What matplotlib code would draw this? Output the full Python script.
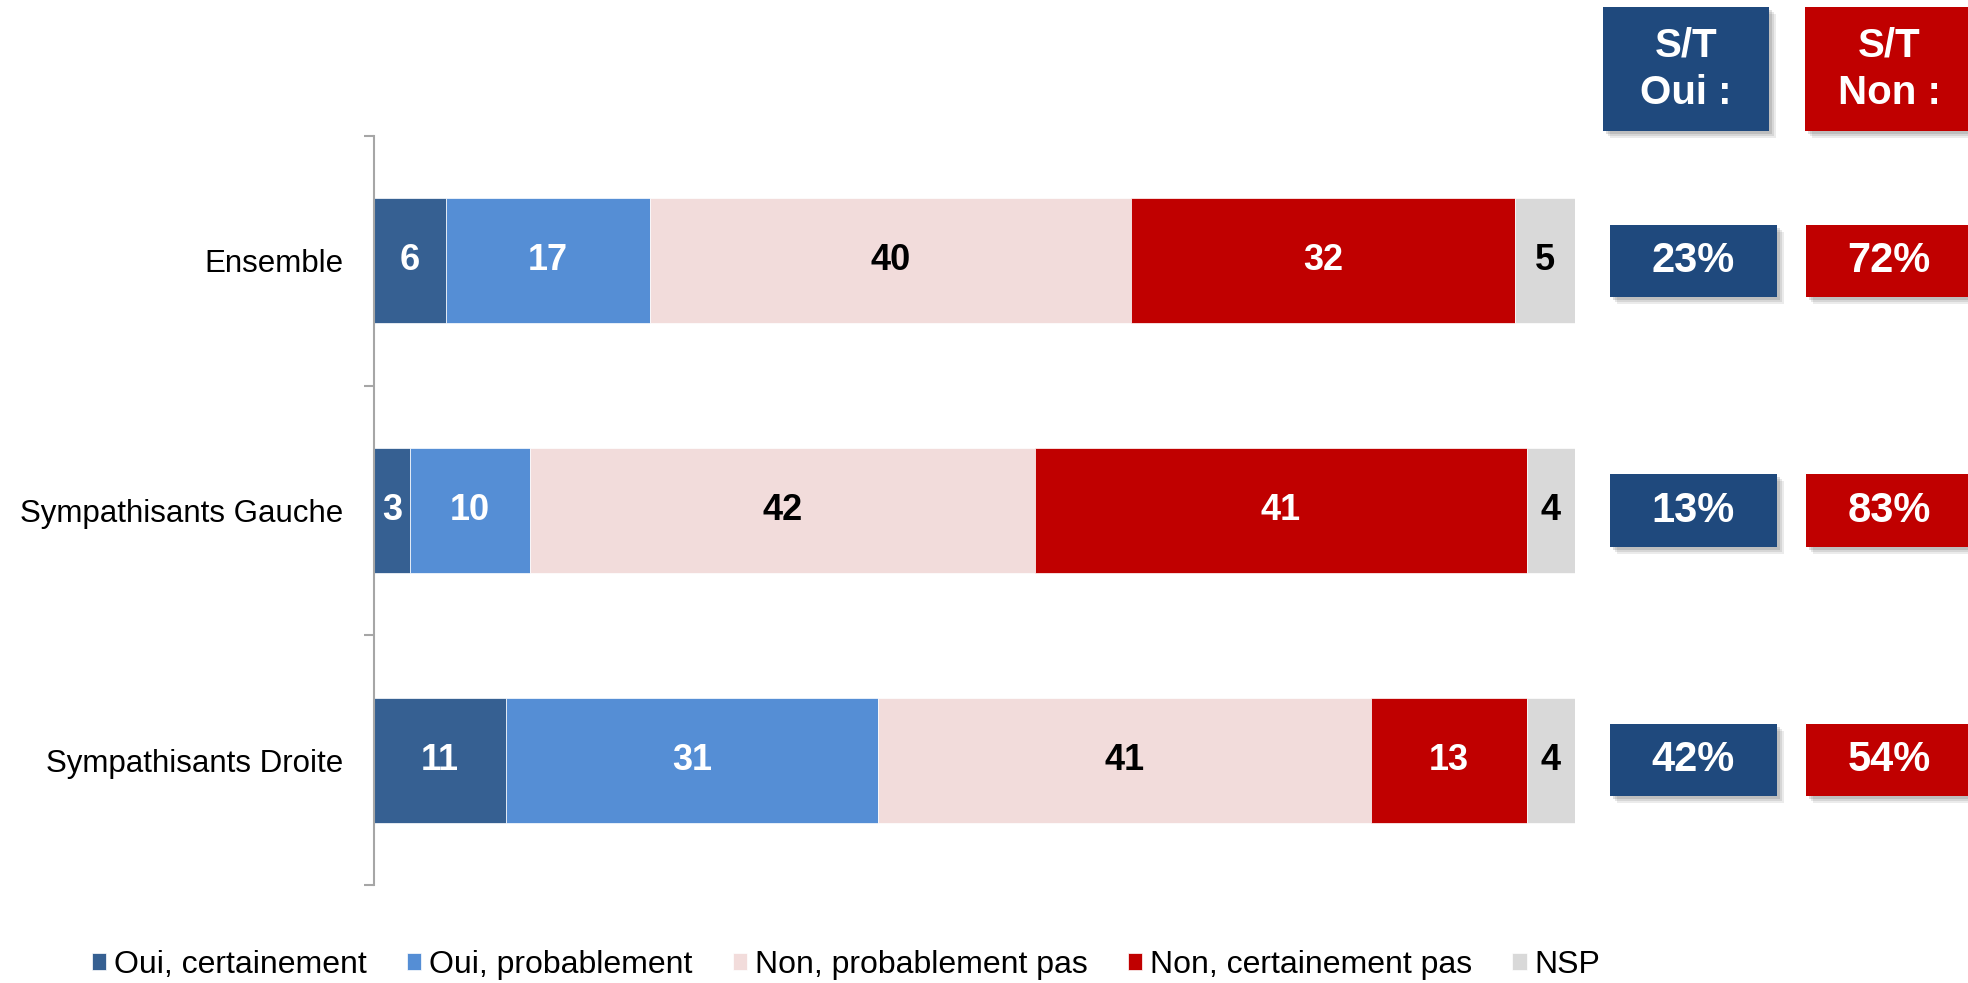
import matplotlib
matplotlib.use("Agg")
import matplotlib.pyplot as plt
from matplotlib.patches import Rectangle
from matplotlib import transforms

plt.rcParams['font.family'] = ['Liberation Sans', 'DejaVu Sans']

categories = ['Ensemble', 'Sympathisants Gauche', 'Sympathisants Droite']
series = ['Oui, certainement', 'Oui, probablement', 'Non, probablement pas',
          'Non, certainement pas', 'NSP']
values = [
    [6, 3, 11],
    [17, 10, 31],
    [40, 42, 41],
    [32, 41, 13],
    [5, 4, 4],
]
colors = ['#366092', '#558ED5', '#F2DCDB', '#C00000', '#D9D9D9']
text_colors = ['white', 'white', 'black', 'white', 'black']
st_oui = ['23%', '13%', '42%']
st_non = ['72%', '83%', '54%']

fig = plt.figure(figsize=(19.68, 9.83), dpi=100)
ax = fig.add_axes([374 / 1968, 1 - 885 / 983, (1575 - 374) / 1968, (885 - 136) / 983])

y = list(range(len(categories)))
left = [0] * len(categories)
for vals, col, tcol, name in zip(values, colors, text_colors, series):
    ax.barh(y, vals, left=left, height=0.5, color=col, label=name,
            edgecolor='white', linewidth=0.5)
    for yi, v, l in zip(y, vals, left):
        ax.text(l + v / 2, yi, str(v), ha='center', va='center',
                color=tcol, fontsize=26, fontweight='bold')
    left = [l + v for l, v in zip(left, vals)]

ax.set_xlim(0, 100)
ax.set_ylim(2.5, -0.5)
ax.set_xticks([])
for s in ['top', 'right', 'bottom']:
    ax.spines[s].set_visible(False)
ax.spines['left'].set_color('#A6A6A6')
ax.spines['left'].set_linewidth(1.5)
ax.set_yticks([-0.5, 0.5, 1.5, 2.5])
ax.set_yticklabels([])
ax.tick_params(axis='y', which='major', length=7.5, width=1.5, color='#A6A6A6')
ax.set_yticks(y, minor=True)
ax.set_yticklabels(categories, minor=True, fontsize=22.5)
ax.tick_params(axis='y', which='minor', length=0, pad=22)

# summary boxes: x in figure pixels, y in data units
trans = transforms.blended_transform_factory(
    transforms.Affine2D().scale(1 / 1968, 1) + fig.transFigure, ax.transData)
fig_px = transforms.Affine2D().scale(1 / 1968, 1 / 983) + fig.transFigure


def box(x0, x1, yc, h, color, text, tr, size):
    for k, a in [(7, 0.12), (5, 0.15), (3, 0.2)]:
        ax.add_patch(Rectangle((x0 + k, yc - h / 2 + (k * 0.004 if tr is trans else -k)),
                               x1 - x0, h, transform=tr, color='#606060',
                               alpha=a, clip_on=False, zorder=3, lw=0))
    ax.add_patch(Rectangle((x0, yc - h / 2), x1 - x0, h, transform=tr,
                           color=color, clip_on=False, zorder=4, lw=0))
    ax.text((x0 + x1) / 2, yc, text, transform=tr, ha='center', va='center',
            color='white', fontsize=size, fontweight='bold', zorder=5,
            clip_on=False, linespacing=1.3)


for yi, o, n in zip(y, st_oui, st_non):
    box(1610, 1777, yi, 0.29, '#1F497D', o, trans, 30)
    box(1806, 1972, yi, 0.29, '#C00000', n, trans, 30)

box(1603, 1769, 983 - 69, 124, '#1F497D', 'S/T\nOui :', fig_px, 29)
box(1805, 1973, 983 - 69, 124, '#C00000', 'S/T\nNon :', fig_px, 29)

ax.legend(loc='center left', bbox_to_anchor=(92 / 1968, 1 - 965 / 983),
          bbox_transform=fig.transFigure, ncol=5, frameon=False, fontsize=23,
          handlelength=0.45, handleheight=0.45, handletextpad=0.25,
          columnspacing=1.25, borderpad=0, borderaxespad=0)

fig.savefig('out.png', dpi=100)
